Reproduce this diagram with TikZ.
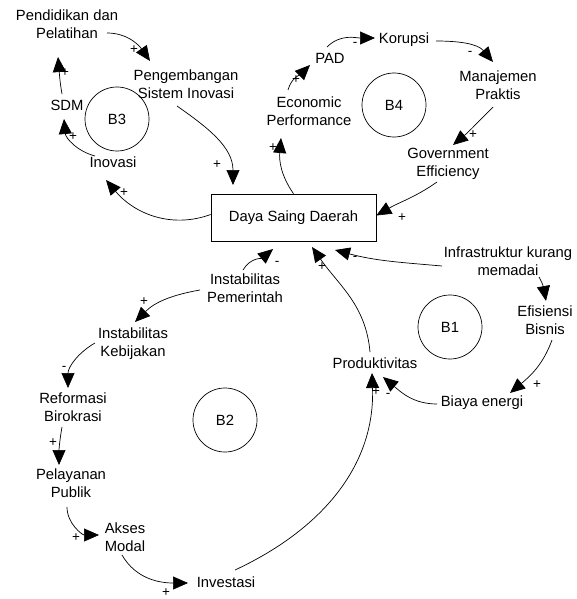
\documentclass[tikz,border=0pt]{standalone}
\usepackage{fontspec}
\setmainfont{Liberation Sans}
\usetikzlibrary{arrows.meta}

\tikzset{
  var/.style={inner sep=1pt, align=center, font=\fontsize{14.8}{18}\selectfont},
  stock/.style={draw, line width=0.7pt, minimum width=165pt, minimum height=47pt, font=\fontsize{14.8}{18}\selectfont},
  loopmark/.style={draw, circle, line width=0.7pt, minimum size=64pt, inner sep=0pt, font=\fontsize{14.8}{18}\selectfont},
  link/.style={line width=0.7pt, -{Triangle[length=15pt,width=13pt]}},
  sign/.style={inner sep=0pt, font=\fontsize{13.5}{13.5}\selectfont}
}

\begin{document}
\begin{tikzpicture}[x=1pt,y=1pt]
  \useasboundingbox (0,0) rectangle (576,-599);

  % Variables
  \node[stock] (ds) at (293.5,-217.5) {Daya Saing Daerah};
  \node[var] (pend) at (67,-24) {Pendidikan dan\\Pelatihan};
  \node[var] (peng) at (186,-84) {Pengembangan\\Sistem Inovasi};
  \node[var] (sdm) at (67,-105) {SDM};
  \node[var] (inov) at (113,-162) {Inovasi};
  \node[var] (econ) at (309,-111) {Economic\\Performance};
  \node[var] (pad) at (330,-58) {PAD};
  \node[var] (kor) at (404,-40) {Korupsi};
  \node[var] (man) at (498,-85) {Manajemen\\Praktis};
  \node[var] (gov) at (448,-164) {Government\\Efficiency};
  \node[var] (infra) at (508,-261) {Infrastruktur kurang\\memadai};
  \node[var] (efi) at (545,-320) {Efisiensi\\Bisnis};
  \node[var] (prod) at (375,-363) {Produktivitas};
  \node[var] (biaya) at (482,-403) {Biaya energi};
  \node[var] (ipem) at (245,-288) {Instabilitas\\Pemerintah};
  \node[var] (ikeb) at (133,-344) {Instabilitas\\Kebijakan};
  \node[var] (ref) at (73,-407) {Reformasi\\Birokrasi};
  \node[var] (pel) at (71,-483) {Pelayanan\\Publik};
  \node[var] (akses) at (125,-537) {Akses\\Modal};
  \node[var] (inv) at (226,-582) {Investasi};

  % Loop markers
  \node[loopmark] (b3) at (117,-119) {B3};
  \node[loopmark] (b4) at (394,-105) {B4};
  \node[loopmark] (b1) at (450,-327) {B1};
  \node[loopmark] (b2) at (225,-420) {B2};

  % Loop B3
  \draw[link] ([shift={(40,-9)}]pend.center) to[out=0,in=125] ([shift={(-36,23)}]peng.center);
  \draw[link] ([shift={(-5,11)}]sdm.center) to[out=100,in=-85] ([shift={(-9,-33)}]pend.center);
  \draw[link] ([shift={(-18,6)}]inov.center) to[out=165,in=-85] ([shift={(-3,-14)}]sdm.center);
  \draw[link] ([shift={(-9,-22)}]peng.center) to[out=-35,in=90] ([shift={(-60.5,32.5)}]ds.center);
  \draw[link] ([yshift=3]ds.west) to[out=200,in=-50] ([shift={(-7,-18)}]inov.center);

  % Loop B4
  \draw[link] (ds.north) to[out=125,in=-95] ([shift={(-28,-27)}]econ.center);
  \draw[link] ([shift={(-21,21)}]econ.center) to[out=75,in=-135] ([shift={(-20,-7)}]pad.center);
  \draw[link] ([shift={(-3,11)}]pad.center) to[out=45,in=180] ([shift={(-29,2)}]kor.center);
  \draw[link] ([shift={(32,-1)}]kor.center) to[out=0,in=130] ([shift={(-5,23)}]man.center);
  \draw[link] ([shift={(-5,-22)}]man.center) to[out=-135,in=40] ([shift={(5,19)}]gov.center);
  \draw[link] ([shift={(-11,-18)}]gov.center) to[out=-145,in=30] ([yshift=2]ds.east);

  % Loop B1
  \draw[link] ([shift={(-66,-5)}]infra.center) to[out=175,in=-15] ([shift={(41.5,-32.5)}]ds.center);
  \draw[link] ([shift={(31,-16)}]infra.center) to[out=-60,in=100] ([shift={(1,19)}]efi.center);
  \draw[link] ([shift={(7,-20)}]efi.center) to[out=-110,in=40] ([shift={(28,10)}]biaya.center);
  \draw[link] ([shift={(-45,-1)}]biaya.center) to[out=180,in=-40] ([shift={(8,-14)}]prod.center);
  \draw[link] ([shift={(-5,11)}]prod.center) to[out=95,in=-55] ([shift={(18.5,-29.5)}]ds.center);

  % Loop B2
  \draw[link] ([shift={(-2,18)}]ipem.center) to[out=60,in=-140] ([shift={(-20.5,-31.5)}]ds.center);
  \draw[link] ([shift={(-45,-2)}]ipem.center) to[out=190,in=45] ([shift={(2,22)}]ikeb.center);
  \draw[link] ([shift={(-38,1)}]ikeb.center) to[out=210,in=90] ([shift={(-5,19)}]ref.center);
  \draw[link] ([shift={(-11,-20)}]ref.center) to[out=-100,in=90] ([shift={(-12,18)}]pel.center);
  \draw[link] ([shift={(-4,-24)}]pel.center) to[out=-90,in=180] ([shift={(-26,2)}]akses.center);
  \draw[link] ([shift={(-3,-18)}]akses.center) to[out=-60,in=180] ([shift={(-38,-1)}]inv.center);
  \draw[link] ([shift={(9,12)}]inv.center) to[out=25,in=-88] ([shift={(-3,-10)}]prod.center);

  % Polarity signs
  \foreach \x/\y/\s [count=\i] in {134/-50/+, 65/-73/+, 73/-137/+, 217/-165/+, 124/-193/+,
      273/-148/+, 296/-80/+, 355/-44/-, 470/-53/-, 473/-135/+, 402/-218/+,
      355/-258/-, 548/-288/-, 537/-385/+, 388/-395/-, 322/-267/+,
      277/-263/-, 144/-302/+, 64/-368/-, 53/-443/+, 76/-538/+, 166/-593/+, 376/-392/+}
    \node[sign] (sign\i) at (\x,\y) {\s};

\end{tikzpicture}
\end{document}
